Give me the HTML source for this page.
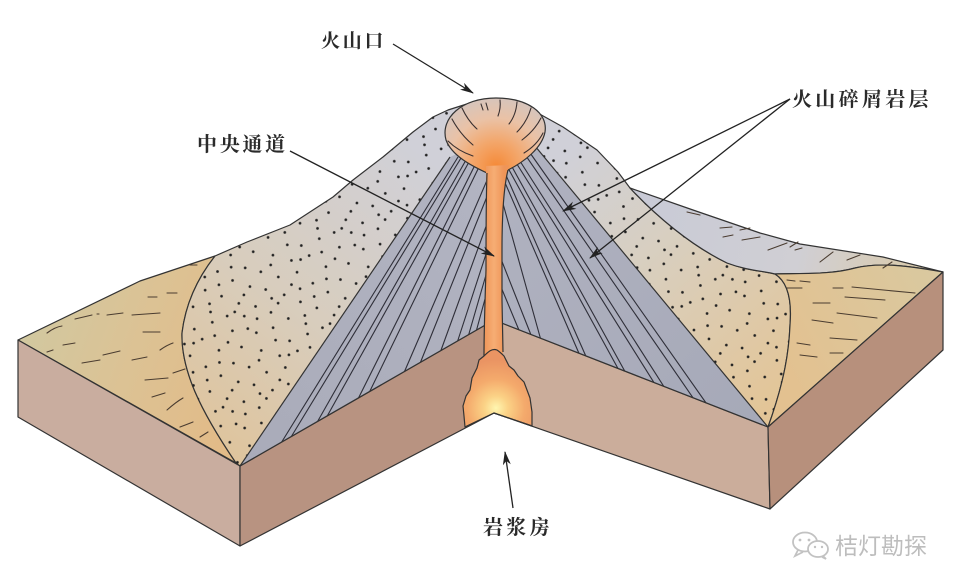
<!DOCTYPE html>
<html><head><meta charset="utf-8">
<style>
html,body{margin:0;padding:0;background:#fff;width:960px;height:586px;overflow:hidden}
svg{display:block}
.lbl{font-family:"Liberation Serif","Noto Serif CJK SC",serif;font-weight:700;fill:#2a2a2a}
</style></head>
<body>
<svg width="960" height="586" viewBox="0 0 960 586" xmlns="http://www.w3.org/2000/svg">
<defs>
  <linearGradient id="gLandL" gradientUnits="userSpaceOnUse" x1="18" y1="340" x2="230" y2="420">
    <stop offset="0" stop-color="#d1c8a0"/><stop offset="0.5" stop-color="#dcc294"/><stop offset="1" stop-color="#e2bb88"/>
  </linearGradient>
  <linearGradient id="gDotL" gradientUnits="userSpaceOnUse" x1="200" y1="440" x2="420" y2="150">
    <stop offset="0" stop-color="#dfc49c"/><stop offset="0.45" stop-color="#d8cdbd"/><stop offset="1" stop-color="#d0d0d8"/>
  </linearGradient>
  <linearGradient id="gDotR" gradientUnits="userSpaceOnUse" x1="570" y1="150" x2="780" y2="400">
    <stop offset="0" stop-color="#d0d0d8"/><stop offset="0.4" stop-color="#d8cfc0"/><stop offset="1" stop-color="#e3c597"/>
  </linearGradient>
  <linearGradient id="gBand" gradientUnits="userSpaceOnUse" x1="630" y1="200" x2="943" y2="272">
    <stop offset="0" stop-color="#c8cad6"/><stop offset="0.55" stop-color="#d0cfd4"/><stop offset="1" stop-color="#dccaa4"/>
  </linearGradient>
  <linearGradient id="gLandR" gradientUnits="userSpaceOnUse" x1="780" y1="360" x2="943" y2="272">
    <stop offset="0" stop-color="#e3c190"/><stop offset="1" stop-color="#d9c9a0"/>
  </linearGradient>
  <linearGradient id="gGrayL" gradientUnits="userSpaceOnUse" x1="240" y1="466" x2="486" y2="160">
    <stop offset="0" stop-color="#a9abb9"/><stop offset="1" stop-color="#b2b4c2"/>
  </linearGradient>
  <linearGradient id="gGrayR" gradientUnits="userSpaceOnUse" x1="510" y1="160" x2="760" y2="420">
    <stop offset="0" stop-color="#b0b2c0"/><stop offset="1" stop-color="#a6a9b8"/>
  </linearGradient>
  <radialGradient id="gCrater" gradientUnits="userSpaceOnUse" cx="496" cy="166" r="80">
    <stop offset="0" stop-color="#f58a38"/><stop offset="0.3" stop-color="#f3a66a"/><stop offset="0.6" stop-color="#eac2a6"/><stop offset="1" stop-color="#cbc6c8"/>
  </radialGradient>
  <linearGradient id="gCond" gradientUnits="userSpaceOnUse" x1="484" y1="0" x2="504" y2="0">
    <stop offset="0" stop-color="#ef9558"/><stop offset="0.5" stop-color="#f6ad74"/><stop offset="1" stop-color="#ef9558"/>
  </linearGradient>
  <radialGradient id="gCham" gradientUnits="userSpaceOnUse" cx="496" cy="408" r="48">
    <stop offset="0" stop-color="#fff6b0"/><stop offset="0.25" stop-color="#fbd286"/><stop offset="0.6" stop-color="#f4aa6c"/><stop offset="1" stop-color="#ea9463"/>
  </radialGradient>
  <pattern id="dots" width="96" height="96" patternUnits="userSpaceOnUse" patternTransform="rotate(7)">
    <g fill="#222">
      <circle cx="7" cy="11" r="1.35"/><circle cx="23" cy="4" r="1.35"/><circle cx="41" cy="15" r="1.35"/><circle cx="58" cy="6" r="1.35"/><circle cx="79" cy="12" r="1.35"/>
      <circle cx="90" cy="27" r="1.35"/><circle cx="14" cy="28" r="1.35"/><circle cx="33" cy="31" r="1.35"/><circle cx="50" cy="24" r="1.35"/><circle cx="68" cy="33" r="1.35"/>
      <circle cx="84" cy="44" r="1.35"/><circle cx="4" cy="46" r="1.35"/><circle cx="22" cy="49" r="1.35"/><circle cx="40" cy="42" r="1.35"/><circle cx="57" cy="51" r="1.35"/>
      <circle cx="73" cy="58" r="1.35"/><circle cx="91" cy="62" r="1.35"/><circle cx="11" cy="63" r="1.35"/><circle cx="30" cy="66" r="1.35"/><circle cx="47" cy="71" r="1.35"/>
      <circle cx="64" cy="75" r="1.35"/><circle cx="82" cy="80" r="1.35"/><circle cx="3" cy="81" r="1.35"/><circle cx="19" cy="85" r="1.35"/><circle cx="37" cy="89" r="1.35"/>
      <circle cx="55" cy="92" r="1.35"/><circle cx="72" cy="94" r="1.35"/><circle cx="89" cy="92" r="1.35"/><circle cx="27" cy="16" r="1.35"/><circle cx="62" cy="19" r="1.35"/>
      <circle cx="45" cy="58" r="1.35"/><circle cx="13" cy="38" r="1.35"/><circle cx="94" cy="8" r="1.35"/><circle cx="76" cy="24" r="1.35"/><circle cx="36" cy="55" r="1.35"/>
      <circle cx="53" cy="84" r="1.35"/><circle cx="70" cy="45" r="1.35"/><circle cx="86" cy="71" r="1.35"/><circle cx="6" cy="93" r="1.35"/><circle cx="25" cy="75" r="1.35"/>
      <circle cx="42" cy="29" r="1.35"/><circle cx="60" cy="64" r="1.35"/><circle cx="18" cy="71" r="1.35"/><circle cx="79" cy="89" r="1.35"/>
    </g>
  </pattern>
  <clipPath id="cpL"><path d="M240,466 L450,157 L470,148 L494,148 L494,320 Z"/></clipPath>
  <clipPath id="cpR"><path d="M494,148 L535,146 L768,427 L494,320 Z"/></clipPath>
  <marker id="ah" viewBox="0 0 14 8" refX="13" refY="4" markerWidth="14" markerHeight="8" markerUnits="userSpaceOnUse" orient="auto">
    <path d="M0,0 L14,4 L0,8 L4,4 Z" fill="#222"/>
  </marker>
</defs>

<rect width="960" height="586" fill="#fff"/>

<g stroke="#333" stroke-width="1.2" stroke-linejoin="round">
  <path d="M18,340 L140,281 L200,261 L215,256 C200,275 186,300 182,333 C181,370 200,410 236,463 Z" fill="url(#gLandL)"/>
  <path d="M215,256 L247,242 L290,225 L313,210 L333,197 L353,180 L383,157 L413,132 L433,117 L448,110 L470,103 L494,100 L494,180 L240,466 L236,463 C200,410 181,370 182,333 C186,300 200,275 215,256 Z" fill="url(#gDotL)"/>
  <path d="M494,100 L527,107 L563,127 L597,150 L618,172 L630,188 C655,215 690,245 727,263 C748,271 765,271 775,274 C788,282 792,300 790,325 C789,350 785,380 768,427 L494,180 Z" fill="url(#gDotR)"/>
  <path d="M630,188 L693,210 L760,233 L800,244 L883,257 L943,272 C910,266 880,262 855,268 C830,275 800,273 775,274 C765,271 748,271 727,263 C690,245 655,215 630,188 Z" fill="url(#gBand)"/>
  <path d="M775,274 C800,273 830,275 855,268 C880,262 910,266 943,272 L768,427 C785,380 789,350 790,325 C792,300 788,282 775,274 Z" fill="url(#gLandR)"/>
</g>
<path d="M215,256 L247,242 L290,225 L313,210 L333,197 L353,180 L383,157 L413,132 L433,117 L448,110 L470,103 L494,100 L494,180 L240,466 L236,463 C200,410 181,370 182,333 C186,300 200,275 215,256 Z" fill="url(#dots)"/>
<path d="M494,100 L527,107 L563,127 L597,150 L618,172 L630,188 C655,215 690,245 727,263 C748,271 765,271 775,274 C788,282 792,300 790,325 C789,350 785,380 768,427 L494,180 Z" fill="url(#dots)"/>

<g stroke="#4a3c30" stroke-width="1.1" stroke-linecap="round" fill="none">
  <path d="M47,333 Q55,327 62,326"/><path d="M47,352 L53,350"/><path d="M63,345 L75,343"/>
  <path d="M75,319 L92,315"/><path d="M97,314 L99,314"/><path d="M107,315 L123,313"/><path d="M132,315 L160,313"/>
  <path d="M148,297 L157,297"/><path d="M167,293 L177,293"/><path d="M190,265 L197,265"/>
  <path d="M143,332 L160,332"/><path d="M160,350 Q167,345 173,343"/>
  <path d="M82,363 L100,360"/><path d="M103,355 L120,351"/><path d="M132,360 L147,357"/>
  <path d="M145,380 L168,378"/><path d="M173,373 L185,369"/><path d="M152,397 L165,393"/>
  <path d="M167,410 Q176,402 183,398"/><path d="M180,427 Q188,424 193,422"/><path d="M200,437 L208,432"/>
  <path d="M787,280 L795,281"/><path d="M800,281 L810,282"/><path d="M787,288 L802,288"/><path d="M833,288 L843,288"/>
  <path d="M852,287 L915,293"/><path d="M845,297 L885,300"/><path d="M813,303 L830,303"/>
  <path d="M837,313 L877,318"/><path d="M812,320 L833,323"/><path d="M830,338 L857,340"/>
  <path d="M797,343 L810,345"/><path d="M800,355 L817,357"/><path d="M830,353 L843,353"/>
  <path d="M687,212 L700,215"/><path d="M720,228 L732,227"/><path d="M740,230 L750,228"/>
  <path d="M723,237 L733,235"/><path d="M742,240 L760,237"/><path d="M768,250 L787,243"/>
  <path d="M790,247 L798,242"/><path d="M795,250 L802,248"/><path d="M820,262 L833,252"/>
  <path d="M847,260 L860,255"/><path d="M883,268 L892,262"/>
</g>

<g stroke="#333" stroke-width="1.2" stroke-linejoin="round">
  <path d="M18,340 L240,466 L240,546 L18,417 Z" fill="#c9ad9f"/>
  <path d="M240,466 L494,320 L494,413 L240,546 Z" fill="#b89381"/>
  <path d="M494,320 L768,427 L770,509 L494,413 Z" fill="#cbad9b"/>
  <path d="M768,427 L943,272 L943,350 L770,509 Z" fill="#b7907c"/>
</g>

<path d="M240,466 L450,157 L470,148 L494,148 L494,320 Z" fill="url(#gGrayL)"/>
<path d="M494,148 L535,146 L768,427 L494,320 Z" fill="url(#gGrayR)"/>
<g stroke="#2e2e38" stroke-width="1.1" fill="none" clip-path="url(#cpL)">
  <path d="M278,448 L458,157"/><path d="M288,442 L461,158"/><path d="M315,426 L466,160"/><path d="M325,420 L469,162"/>
  <path d="M357,401 L475,165"/><path d="M368,395 L479,167"/><path d="M403,375 L488,178"/><path d="M419,366 L488,194"/>
  <path d="M440,353 L488,221"/><path d="M457,343 L488,248"/><path d="M468,337 L488,268"/><path d="M476,332 L488,288"/>
</g>
<g stroke="#2e2e38" stroke-width="1.1" fill="none" clip-path="url(#cpR)">
  <path d="M501,287 L521,335"/><path d="M501,259 L533,340"/><path d="M502,200 L542,344"/><path d="M503,178 L581,358"/>
  <path d="M505,173 L588,361"/><path d="M508,168 L621,374"/><path d="M511,165 L628,377"/><path d="M515,161 L658,389"/>
  <path d="M518,158 L668,393"/><path d="M524,153 L698,405"/><path d="M528,150 L711,410"/>
</g>
<g stroke="#333" stroke-width="1.2" fill="none" stroke-linejoin="round">
  <path d="M240,466 L450,157"/><path d="M535,146 L768,427"/>
  <path d="M240,466 L494,320 L768,427"/>
</g>

<path d="M487,173 C472,166 452,156 446,140 C440,118 462,98 496,98 C528,98 548,113 545,132 C542,148 524,162 508,170 Z" fill="url(#gCrater)" stroke="#333" stroke-width="1.2"/>
<g stroke="#3a3030" stroke-width="1.1" fill="none" stroke-linecap="round">
  <path d="M448,141 Q458,151 473,156"/><path d="M452,119 Q460,134 473,145"/><path d="M462,108 Q468,121 477,129"/>
  <path d="M481,104 L483,110"/><path d="M486,103 L488,110"/>
  <path d="M500,100 Q501,108 498,116"/><path d="M517,102 Q516,115 509,124"/><path d="M531,108 Q527,122 517,132"/>
  <path d="M541,118 Q535,130 522,140"/><path d="M543,133 Q537,145 524,153"/>
</g>

<path d="M486,166 L509,165 C503,190 502,220 502,250 L502,300 L503,362 L484,362 L484,330 C485,300 486,240 486,200 Z" fill="url(#gCond)"/>
<g stroke="#333" stroke-width="1.2" fill="none">
  <path d="M487,173 C486,200 486,240 486,270 C485,300 484,330 484,356"/>
  <path d="M508,170 C503,190 502,220 502,250 L502,300 L503,352"/>
</g>
<path d="M484,356 C488,352 492,348 497,350 C500,352 502,354 504,356 L509,366 L514,370 L518,376 L524,382 L527,390 L530,398 L532,412 L532,426 L494,413 L465,427 L464,416 L463,406 L466,396 L470,390 L472,378 L477,368 L479,360 Z" fill="url(#gCham)" stroke="#333" stroke-width="1.2" stroke-linejoin="round"/>
<path d="M465,427 L494,413 L532,426" fill="none" stroke="#333" stroke-width="1.2"/>

<g stroke="#222" stroke-width="1.3" fill="none" marker-end="url(#ah)">
  <line x1="393" y1="44" x2="473" y2="93"/>
  <line x1="290" y1="151" x2="494" y2="256"/>
  <line x1="790" y1="99" x2="563" y2="211"/>
  <line x1="790" y1="99" x2="590" y2="258"/>
  <line x1="513" y1="508" x2="505" y2="452"/>
</g>

<text class="lbl" x="321" y="47" font-size="19" letter-spacing="2.7">火山口</text>
<text class="lbl" x="197" y="151" font-size="20" letter-spacing="2.7">中央通道</text>
<text class="lbl" x="792" y="106" font-size="20" letter-spacing="3.3">火山碎屑岩层</text>
<text class="lbl" x="483" y="534" font-size="20" letter-spacing="3.3">岩浆房</text>

<g fill="none" stroke="#c2c2c2" stroke-width="1.8">
  <ellipse cx="805" cy="542" rx="12" ry="9.5"/>
  <path d="M798,550 L795,556 L803,552"/>
  <ellipse cx="818" cy="549" rx="10" ry="8" fill="#fff"/>
  <path d="M823,556 L826,559 L822,557"/>
</g>
<g fill="#c2c2c2"><circle cx="800" cy="540" r="1.4"/><circle cx="809" cy="540" r="1.4"/><circle cx="815" cy="547" r="1.2"/><circle cx="822" cy="547" r="1.2"/></g>
<text x="835" y="554" font-size="23" font-family="Liberation Sans,'Noto Sans CJK SC',sans-serif" fill="#bdbdbd">桔灯勘探</text>
</svg>
</body></html>
